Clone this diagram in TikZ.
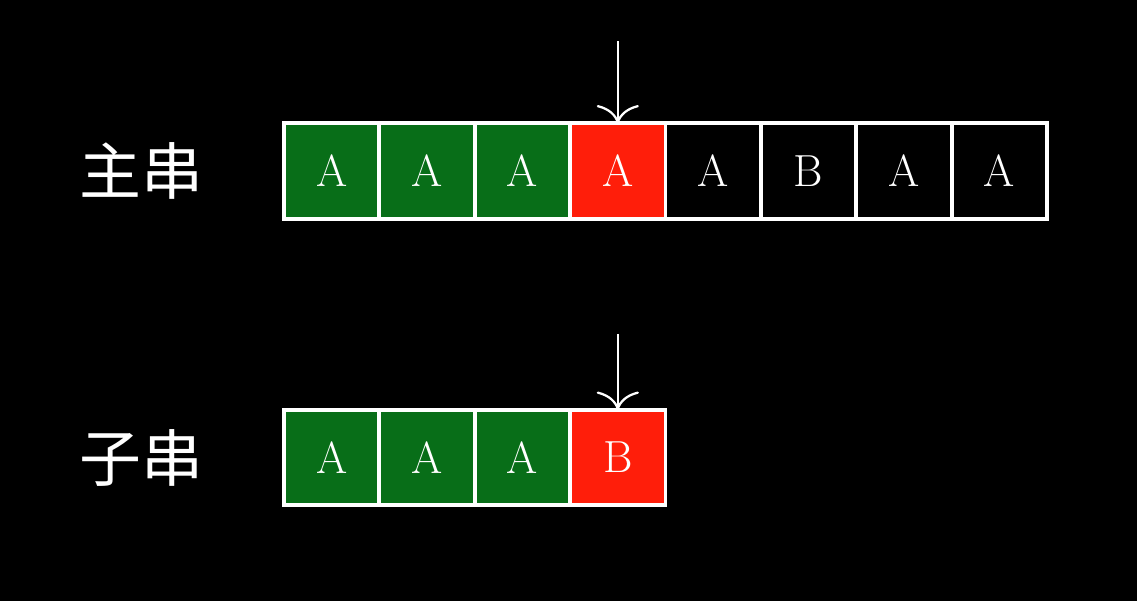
\documentclass[tikz,border=0pt]{standalone}
\usepackage{fontspec}
\newfontfamily\cjk{Noto Sans CJK SC}
\usetikzlibrary{positioning, arrows.meta}

\definecolor{matchgreen}{RGB}{8,110,24}
\definecolor{failred}{RGB}{255,30,10}
\definecolor{bgblack}{RGB}{0,0,0}

\begin{document}
\begin{tikzpicture}[node distance=0pt,
    cell/.style={rectangle, draw=white, line width=2.6pt, minimum size=2.385cm, outer sep=0pt,
      text=white, font=\fontsize{32}{38}\selectfont},
    lbl/.style={text=white, inner sep=0pt, font=\cjk\fontsize{44}{50}\selectfont},
    ptr/.style={draw=white, line width=1.6pt, -{Computer Modern Rightarrow[length=13pt, width=30pt]}}]

\fill [bgblack] (0,0) rectangle (28.425,15.025);
\useasboundingbox (0,0) rectangle (28.425,15.025);

% main string
\node [cell, fill=matchgreen] (m1) at (8.29,10.75) {A};
\node [cell, fill=matchgreen, right=of m1] (m2) {A};
\node [cell, fill=matchgreen, right=of m2] (m3) {A};
\node [cell, fill=failred, right=of m3] (m4) {A};
\node [cell, fill=black, right=of m4] (m5) {A};
\node [cell, fill=black, right=of m5] (m6) {B};
\node [cell, fill=black, right=of m6] (m7) {A};
\node [cell, fill=black, right=of m7] (m8) {A};

% pattern
\node [cell, fill=matchgreen] (s1) at (8.29,3.5875) {A};
\node [cell, fill=matchgreen, right=of s1] (s2) {A};
\node [cell, fill=matchgreen, right=of s2] (s3) {A};
\node [cell, fill=failred, right=of s3] (s4) {B};

\node [lbl, left=2cm of m1] (main) {主串};
\node [lbl, left=2cm of s1] (sub) {子串};

\coordinate (mtop) at ([yshift=2.05cm]m4.north);
\coordinate (stop) at ([yshift=1.9cm]s4.north);
\draw [ptr] (mtop) -- (m4.north);
\draw [ptr] (stop) -- (s4.north);
\end{tikzpicture}
\end{document}
